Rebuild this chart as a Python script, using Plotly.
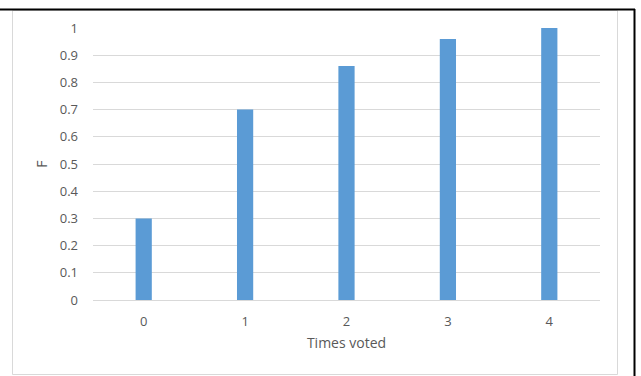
import plotly.graph_objects as go

# Share of voters (F) by number of times voted
times_voted = ["0", "1", "2", "3", "4"]
f_values = [0.30, 0.70, 0.86, 0.96, 1.00]
y_ticks = [0, 0.1, 0.2, 0.3, 0.4, 0.5, 0.6, 0.7, 0.8, 0.9, 1]
y_tick_text = ["0", "0.1", "0.2", "0.3", "0.4", "0.5", "0.6", "0.7", "0.8", "0.9", "1"]

W, H = 641, 376
L, R, T, B = 93, 41, 28, 76

def px_x(x):
    return (x - L) / (W - L - R)

def px_y(y):
    return (H - B - y) / (H - T - B)

font_family = "Open Sans, Liberation Sans, sans-serif"
gray_text = "#595959"

fig = go.Figure(
    go.Bar(
        x=times_voted,
        y=f_values,
        marker=dict(color="#5B9BD5", line=dict(width=0)),
    )
)

fig.update_layout(
    width=W,
    height=H,
    margin=dict(l=L, r=R, t=T, b=B),
    paper_bgcolor="white",
    plot_bgcolor="white",
    bargap=0.84,
    showlegend=False,
    font=dict(family=font_family, size=13, color=gray_text),
    xaxis=dict(
        type="category",
        showgrid=False,
        showline=False,
        ticks="",
        ticklabelstandoff=12,
        tickfont=dict(size=13, color=gray_text),
        title=dict(text="Times voted", font=dict(size=14, color=gray_text), standoff=9),
    ),
    yaxis=dict(
        range=[0, 1],
        tickvals=y_ticks,
        ticktext=y_tick_text,
        showgrid=True,
        gridcolor="#D9D9D9",
        gridwidth=1,
        zeroline=True,
        zerolinecolor="#D9D9D9",
        zerolinewidth=1,
        showline=False,
        ticks="",
        ticklabelstandoff=14,
        tickfont=dict(size=13, color=gray_text),
        title=dict(text="F", font=dict(size=14, color=gray_text), standoff=8),
    ),
    shapes=[
        # light chart-area frame
        dict(type="rect", xref="paper", yref="paper",
             x0=px_x(12.5), x1=px_x(617.5), y0=px_y(374.5), y1=px_y(10.5),
             line=dict(color="#D9D9D9", width=1), fillcolor="rgba(0,0,0,0)", layer="below"),
        # dark outer rule along the top and right
        dict(type="line", xref="paper", yref="paper",
             x0=px_x(0), x1=px_x(635), y0=px_y(9.5), y1=px_y(9.5),
             line=dict(color="black", width=2)),
        dict(type="line", xref="paper", yref="paper",
             x0=px_x(634.5), x1=px_x(634.5), y0=px_y(9), y1=px_y(376),
             line=dict(color="black", width=2)),
    ],
)

fig.write_html("out.html")
